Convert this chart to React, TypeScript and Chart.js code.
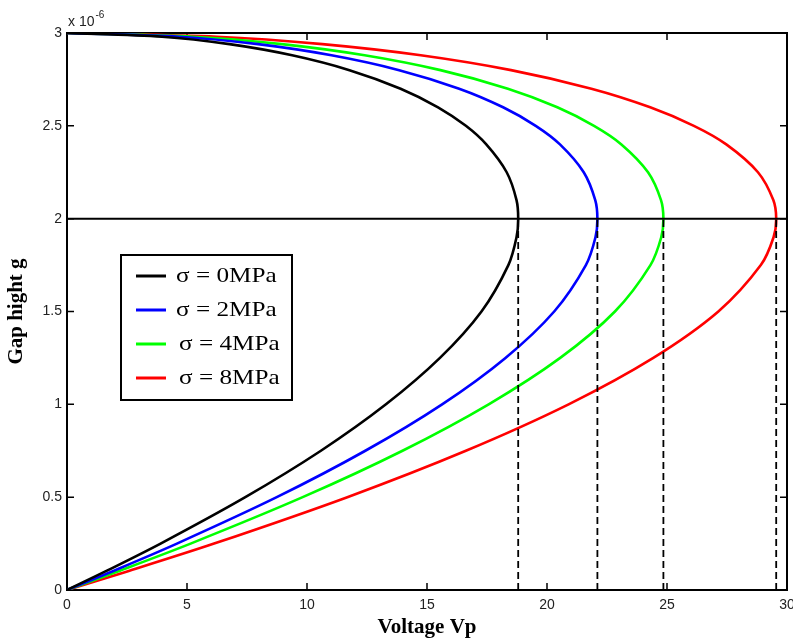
import React, { useEffect, useRef } from "react";
import { Chart, registerables } from "chart.js";

Chart.register(...registerables);

// gap height g (x 10^-6 m) at which voltages were read
const gapLevels = [0, 0.1, 0.25, 0.5, 0.75, 1.0, 1.25, 1.5, 1.75, 1.9, 2.0, 2.1, 2.25, 2.4, 2.5, 2.6, 2.7, 2.8, 2.88, 2.94, 2.98, 3.0];

// voltage Vp at the gap levels above
const voltsSigma0 = [0, 1.6, 3.9, 7.43, 10.58, 13.29, 15.54, 17.27, 18.39, 18.73, 18.8, 18.73, 18.32, 17.47, 16.62, 15.46, 13.9, 11.77, 9.38, 6.77, 3.96, 0];
const voltsSigma2 = [0, 1.88, 4.58, 8.74, 12.43, 15.63, 18.27, 20.3, 21.62, 22.02, 22.1, 22.01, 21.53, 20.54, 19.53, 18.17, 16.34, 13.84, 11.02, 7.96, 4.66, 0];
const voltsSigma4 = [0, 2.11, 5.15, 9.82, 13.98, 17.57, 20.55, 22.83, 24.31, 24.76, 24.85, 24.75, 24.21, 23.1, 21.96, 20.43, 18.37, 15.56, 12.4, 8.95, 5.24, 0];
const voltsSigma8 = [0, 2.51, 6.13, 11.68, 16.62, 20.9, 24.43, 27.14, 28.91, 29.44, 29.55, 29.43, 28.79, 27.47, 26.12, 24.3, 21.85, 18.5, 14.74, 10.64, 6.23, 0];

const seriesLabels = ["σ = 0MPa", "σ = 2MPa", "σ = 4MPa", "σ = 8MPa"];
const seriesColors = ["#000000", "#0000ff", "#00ff00", "#ff0000"];
const seriesVolts = [voltsSigma0, voltsSigma2, voltsSigma4, voltsSigma8];

// pull-in voltages (dashed markers) and pull-in gap (horizontal line)
const pullInVoltages = [18.8, 22.1, 24.85, 29.55];
const pullInGap = 2;

const xMin = 0, xMax = 30, xStep = 5;
const yMin = 0, yMax = 3, yStep = 0.5;

const framePlugin = {
  id: "frame",
  beforeDatasetsDraw(chart: any) {
    const { ctx, chartArea } = chart;
    const { left, right, top, bottom } = chartArea;
    const xs = chart.scales.x;
    const ys = chart.scales.y;
    ctx.save();
    ctx.strokeStyle = "#000";
    ctx.lineWidth = 2;
    ctx.strokeRect(left, top, right - left, bottom - top);
    ctx.lineWidth = 1.5;
    const tl = 7;
    ctx.beginPath();
    xs.ticks.forEach((t: any) => {
      const px = xs.getPixelForValue(t.value);
      ctx.moveTo(px, bottom);
      ctx.lineTo(px, bottom - tl);
      ctx.moveTo(px, top);
      ctx.lineTo(px, top + tl);
    });
    ys.ticks.forEach((t: any) => {
      const py = ys.getPixelForValue(t.value);
      ctx.moveTo(left, py);
      ctx.lineTo(left + tl, py);
      ctx.moveTo(right, py);
      ctx.lineTo(right - tl, py);
    });
    ctx.stroke();
    // exponent label
    ctx.fillStyle = "#222";
    ctx.textBaseline = "alphabetic";
    ctx.font = "14px 'Liberation Sans', Arial, sans-serif";
    ctx.fillText("x 10", left + 1, top - 7);
    const w = ctx.measureText("x 10").width;
    ctx.font = "10px 'Liberation Sans', Arial, sans-serif";
    ctx.fillText("-6", left + 2 + w, top - 15);
    ctx.restore();
  },
};

const legendPlugin = {
  id: "customLegend",
  afterDatasetsDraw(chart: any) {
    const { ctx, chartArea } = chart;
    const bx = chartArea.left + 54;
    const by = chartArea.top + 222;
    const bw = 171;
    const bh = 145;
    ctx.save();
    ctx.fillStyle = "#fff";
    ctx.fillRect(bx, by, bw, bh);
    ctx.strokeStyle = "#000";
    ctx.lineWidth = 2;
    ctx.strokeRect(bx, by, bw, bh);
    ctx.font = "21px 'Liberation Serif', 'Times New Roman', serif";
    ctx.textBaseline = "middle";
    seriesLabels.forEach((label, i) => {
      const y = by + 21 + i * 34;
      ctx.strokeStyle = seriesColors[i];
      ctx.lineWidth = 3;
      ctx.beginPath();
      ctx.moveTo(bx + 15, y);
      ctx.lineTo(bx + 45, y);
      ctx.stroke();
      ctx.fillStyle = "#000";
      ctx.save();
      ctx.translate(bx + 55 + (i >= 2 ? 3 : 0), y);
      ctx.scale(1.2, 1);
      ctx.fillText(label, 0, 0);
      ctx.restore();
    });
    ctx.restore();
  },
};

export default function App() {
  const ref = useRef<HTMLCanvasElement | null>(null);
  useEffect(() => {
    if (!ref.current) return;
    const curveSets = seriesVolts.map((vals, i) => ({
      label: seriesLabels[i],
      data: vals.map((v, j) => ({ x: v, y: gapLevels[j] })),
      borderColor: seriesColors[i],
      backgroundColor: seriesColors[i],
      borderWidth: 2.6,
      showLine: true,
      pointRadius: 0,
      tension: 0.3,
      order: 2,
    }));
    const dashedSets = pullInVoltages.map((v) => ({
      label: "pull-in " + v,
      data: [{ x: v, y: 0 }, { x: v, y: pullInGap }],
      borderColor: "#000",
      borderWidth: 1.8,
      borderDash: [7, 4],
      showLine: true,
      pointRadius: 0,
      order: 1,
    }));
    const hLine = {
      label: "pull-in gap",
      data: [{ x: xMin, y: pullInGap }, { x: xMax, y: pullInGap }],
      borderColor: "#000",
      borderWidth: 2,
      showLine: true,
      pointRadius: 0,
      order: 0,
    };
    const tickFont = { family: "'Liberation Sans', Arial, sans-serif", size: 14 };
    const titleFont = { family: "'Liberation Serif', 'Times New Roman', serif", size: 21, weight: "bold" as const };
    const chart = new Chart(ref.current, {
      type: "scatter",
      data: { datasets: [...curveSets, ...dashedSets, hLine] as any },
      options: {
        animation: false,
        responsive: false,
        maintainAspectRatio: false,
        layout: { padding: { top: 33, right: 6, left: 0, bottom: 0 } },
        plugins: { legend: { display: false }, tooltip: { enabled: false } },
        scales: {
          x: {
            type: "linear",
            min: xMin,
            max: xMax,
            ticks: { stepSize: xStep, font: tickFont, color: "#222", padding: 7, callback: (v: any) => String(+v) },
            grid: { display: false, drawTicks: false },
            border: { display: false },
            title: { display: true, text: "Voltage Vp", font: titleFont, color: "#000", padding: { top: 2, bottom: 4 } },
            afterFit: (s: any) => { s.height = 54; s.paddingLeft = 0; s.paddingRight = 0; },
          },
          y: {
            type: "linear",
            min: yMin,
            max: yMax,
            ticks: { stepSize: yStep, font: tickFont, color: "#222", padding: 5, callback: (v: any) => String(+v) },
            grid: { display: false, drawTicks: false },
            border: { display: false },
            title: { display: true, text: "Gap hight g", font: titleFont, color: "#000", padding: { top: 4, bottom: 4 } },
            afterFit: (s: any) => { s.width = 67; s.paddingTop = 0; s.paddingBottom = 0; },
          },
        },
      },
      plugins: [framePlugin, legendPlugin],
    });
    return () => chart.destroy();
  }, []);
  return (
    <div style={{ position: "absolute", left: 0, top: 0, width: 793, height: 644, background: "#fff" }}>
      <canvas ref={ref} width={793} height={644} />
    </div>
  );
}
